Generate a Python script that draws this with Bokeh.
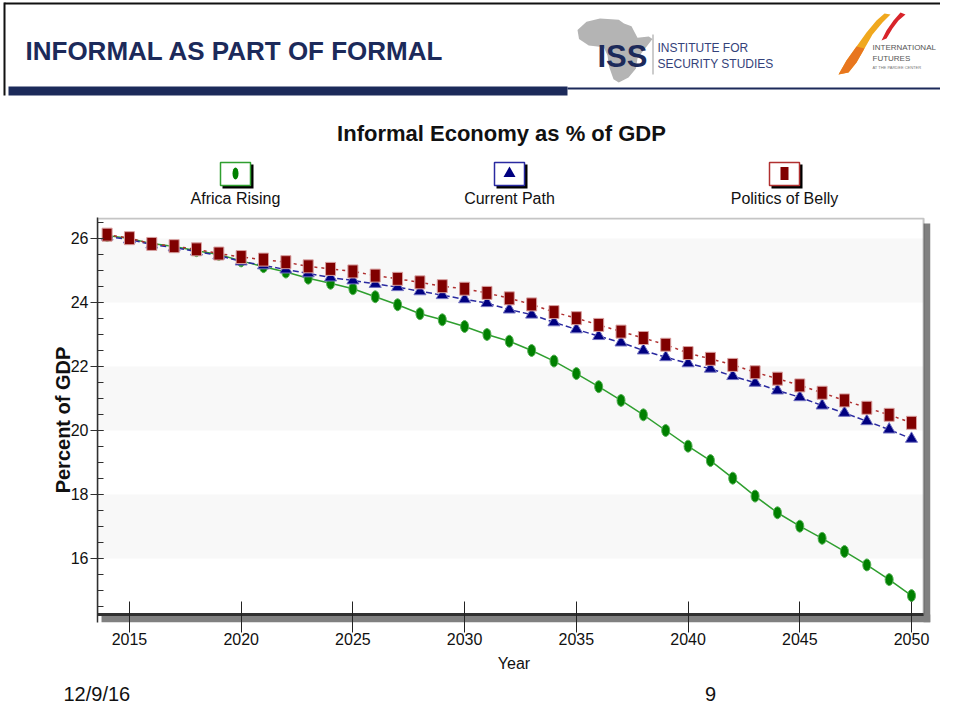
from bokeh.plotting import figure
from bokeh.models import BoxAnnotation, FixedTicker, Range1d
from bokeh.core.properties import value
from bokeh.embed import file_html
from bokeh.resources import INLINE
import numpy as np

# ---------------- data ----------------
years = list(range(2014, 2051))
africa_rising = [26.09, 26.00, 25.84, 25.75, 25.62, 25.50, 25.30, 25.12, 24.95, 24.76,
                 24.60, 24.43, 24.18, 23.93, 23.65, 23.46, 23.25, 23.00, 22.79, 22.50,
                 22.17, 21.78, 21.37, 20.94, 20.49, 20.00, 19.51, 19.06, 18.51, 17.95,
                 17.43, 17.01, 16.63, 16.22, 15.80, 15.34, 14.84]
current_path = [26.06, 25.97, 25.81, 25.72, 25.59, 25.47, 25.28, 25.16, 25.03, 24.91,
                24.78, 24.69, 24.58, 24.48, 24.35, 24.23, 24.10, 23.98, 23.78, 23.62,
                23.38, 23.16, 22.95, 22.75, 22.50, 22.29, 22.10, 21.93, 21.70, 21.49,
                21.25, 21.04, 20.78, 20.55, 20.29, 20.03, 19.74]
politics_of_belly = [26.12, 26.01, 25.83, 25.76, 25.66, 25.53, 25.42, 25.34, 25.26, 25.13,
                     25.05, 24.97, 24.84, 24.74, 24.63, 24.51, 24.43, 24.30, 24.13, 23.94,
                     23.70, 23.51, 23.30, 23.09, 22.89, 22.68, 22.42, 22.24, 22.05, 21.82,
                     21.62, 21.41, 21.18, 20.94, 20.71, 20.49, 20.24]
series_names = ["Africa Rising", "Current Path", "Politics of Belly"]
x_ticks = [2015, 2020, 2025, 2030, 2035, 2040, 2045, 2050]
y_ticks = [16, 18, 20, 22, 24, 26]

slide_title = "INFORMAL AS PART OF FORMAL"
chart_title = "Informal Economy as % of GDP"
date_text = "12/9/16"
page_text = "9"

SANS = "Liberation Sans"
NAVY = "#1c2a5a"
W = 940

GREEN_M, BLUE_M, RED_M = "#008000", "#000080", "#800000"
GREEN_L, BLUE_L, RED_L = "#2f9f2f", "#2a2aa0", "#b03030"


def deco_fig(h, y0):
    f = figure(width=W, height=h, output_backend="svg", toolbar_location=None,
               x_range=Range1d(0, W), y_range=Range1d(y0 + h, y0),
               x_axis_type=None, y_axis_type=None, min_border=0)
    f.grid.visible = False
    f.outline_line_color = None
    f.background_fill_color = "white"
    f.border_fill_color = "white"
    return f


def text(f, x, y, t, size, style="normal", color="#111111", align="left"):
    f.text(x=[x], y=[y], text=[t], text_font=value(SANS), text_font_size=value(size),
           text_font_style=style, text_color=color, text_align=align, text_baseline="middle")


# ================= header (page y 0..212) =================
hd = deco_fig(212, 0)
hd.quad(left=[4], right=[956], top=[2], bottom=[4], fill_color="#111111", line_color=None)
hd.quad(left=[3], right=[5], top=[2], bottom=[95], fill_color="#111111", line_color=None)
text(hd, 25, 50, slide_title, "26px", style="bold", color=NAVY)
hd.quad(left=[8], right=[567], top=[86], bottom=[95], fill_color=NAVY, line_color=None)
hd.quad(left=[567], right=[956], top=[87], bottom=[89], fill_color=NAVY, line_color=None)

# ISS logo: grey Africa silhouette
af = [(0.30, 0.0), (0.55, 0.02), (0.62, 0.08), (0.72, 0.12), (0.80, 0.30), (0.95, 0.28),
      (1.0, 0.32), (0.88, 0.50), (0.80, 0.62), (0.78, 0.78), (0.68, 0.92), (0.55, 1.0),
      (0.48, 0.95), (0.42, 0.75), (0.40, 0.58), (0.35, 0.45), (0.15, 0.42), (0.02, 0.32),
      (0.0, 0.18), (0.12, 0.05)]
hd.patch([577 + 75 * a for a, _ in af], [18 + 64 * b for _, b in af],
         fill_color="#b4b4b4", line_color=None)
text(hd, 597, 56, "ISS", "31px", style="bold", color=NAVY)
hd.quad(left=[652], right=[653], top=[34], bottom=[74], fill_color="#9a9a9a", line_color=None)
text(hd, 657, 47, "INSTITUTE FOR", "12px", color="#34427a")
text(hd, 657, 63, "SECURITY STUDIES", "12px", color="#34427a")

# International Futures logo (flame swooshes)
yel = [(884, 13), (876, 20), (866, 32), (856, 46), (846, 60), (838, 74), (848, 72), (856, 62),
       (864, 48), (872, 34), (882, 22), (890, 14)]
hd.patch([a for a, _ in yel], [b for _, b in yel], fill_color="#f0a81e", line_color=None)
orn = [(856, 46), (846, 60), (838, 74), (848, 72), (856, 62), (864, 48)]
hd.patch([a for a, _ in orn], [b for _, b in orn], fill_color="#e8761e", line_color=None)
red = [(900, 12), (893, 20), (886, 30), (881, 40), (886, 38), (892, 28), (898, 20), (905, 14)]
hd.patch([a for a, _ in red], [b for _, b in red], fill_color="#d8242a", line_color=None)
text(hd, 872, 47, "INTERNATIONAL", "8px", color="#555555")
text(hd, 872, 58, "FUTURES", "8px", color="#555555")
text(hd, 872, 67, "AT THE PARDEE CENTER", "4px", color="#777777")

# chart title
text(hd, 501, 133, chart_title, "22px", style="bold", align="center")

# custom legend (marker box above name)
legend_cx = [235, 509, 784]
legend_cols = [GREEN_L, BLUE_L, RED_L]
for cx, name, col in zip(legend_cx, series_names, legend_cols):
    hd.quad(left=[cx - 13], right=[cx + 18], top=[164], bottom=[188], fill_color="black",
            line_color=None)
    hd.quad(left=[cx - 15], right=[cx + 15], top=[162], bottom=[185], fill_color="white",
            line_color=col, line_width=1.5)
    text(hd, cx, 198, name, "16px", align="center")
hd.ellipse(x=[legend_cx[0]], y=[173], width=6, height=12, fill_color=GREEN_M, line_color=None)
hd.scatter(x=[legend_cx[1]], y=[173], marker="triangle", size=12, fill_color=BLUE_M,
           line_color=None)
hd.rect(x=[legend_cx[2]], y=[173], width=8, height=13, fill_color=RED_M, line_color=None)

# ================= main chart (page y 212..684) =================
p = figure(width=W, height=472, output_backend="svg", toolbar_location=None,
           x_range=Range1d(2013.57, 2050.85), y_range=Range1d(14.0, 26.656),
           min_border_left=97, min_border_right=10, min_border_top=5, min_border_bottom=62)
p.background_fill_color = "white"
p.border_fill_color = "white"
p.outline_line_color = None
p.xgrid.grid_line_color = None
p.ygrid.grid_line_color = None

p.xaxis.ticker = FixedTicker(ticks=x_ticks, minor_ticks=[])
p.xaxis.axis_line_color = None
p.xaxis.major_tick_line_color = "#222222"
p.xaxis.major_tick_in = 21
p.xaxis.major_tick_out = 10
p.xaxis.minor_tick_line_color = None
p.xaxis.major_label_standoff = 0
p.xaxis.major_label_text_font = SANS
p.xaxis.major_label_text_font_size = "16px"
p.xaxis.major_label_text_color = "#111111"
p.xaxis.axis_label = "Year"
p.xaxis.axis_label_text_font = SANS
p.xaxis.axis_label_text_font_size = "16px"
p.xaxis.axis_label_text_font_style = "normal"
p.xaxis.axis_label_text_color = "#111111"
p.xaxis.axis_label_standoff = 7

minor_y = list(np.arange(14.5, 26.66, 0.5))
p.yaxis.ticker = FixedTicker(ticks=y_ticks, minor_ticks=minor_y)
p.yaxis.axis_line_color = "#303030"
p.yaxis.axis_line_width = 1.5
p.yaxis.major_tick_line_color = "#303030"
p.yaxis.minor_tick_line_color = "#303030"
p.yaxis.major_tick_in = 6
p.yaxis.major_tick_out = 7
p.yaxis.minor_tick_in = 6
p.yaxis.minor_tick_out = 0
p.yaxis.major_label_standoff = 2
p.yaxis.major_label_text_font = SANS
p.yaxis.major_label_text_font_size = "16px"
p.yaxis.major_label_text_color = "#111111"
p.yaxis.axis_label = "Percent of GDP"
p.yaxis.axis_label_text_font = SANS
p.yaxis.axis_label_text_font_size = "20px"
p.yaxis.axis_label_text_font_style = "bold"
p.yaxis.axis_label_text_color = "#111111"
p.yaxis.axis_label_standoff = -6

X_END, Y_BOT, Y_TOP = 2050.54, 14.25, 26.656

# bands between alternate major ticks
for lo in y_ticks[::2]:
    p.add_layout(BoxAnnotation(bottom=lo, top=lo + 2, right=X_END, fill_color="#f8f8f8",
                               fill_alpha=1, line_color=None, level="underlay"))
# drop shadow of chart box
p.add_layout(BoxAnnotation(left=X_END, top=Y_TOP - 0.19, bottom=14.0, fill_color="#808080",
                           fill_alpha=1, line_color=None, level="underlay"))
p.add_layout(BoxAnnotation(left=2013.75, top=Y_BOT, bottom=14.0, fill_color="#808080",
                           fill_alpha=1, line_color=None, level="underlay"))
# chart box
p.add_layout(BoxAnnotation(right=X_END, top=Y_TOP - 0.03, bottom=Y_BOT, fill_alpha=0,
                           line_color="#404040", line_width=2, level="underlay"))
p.add_layout(BoxAnnotation(right=X_END, top=Y_BOT + 0.045, bottom=Y_BOT - 0.045,
                           fill_color="#303030", fill_alpha=1, line_color=None, level="underlay"))

p.line(years, africa_rising, line_color=GREEN_L, line_width=1.5)
p.ellipse(years, africa_rising, width=8, height=12, width_units="screen", height_units="screen",
          fill_color=GREEN_M, line_color="#55b055", line_width=1)
p.line(years, current_path, line_color=BLUE_L, line_width=1.5, line_dash="6 3")
p.scatter(years, current_path, marker="triangle", size=12, fill_color=BLUE_M,
          line_color="#7070c0", line_width=1)
p.line(years, politics_of_belly, line_color=RED_L, line_width=1.5, line_dash="3 4")
p.rect(years, politics_of_belly, width=10, height=13, width_units="screen", height_units="screen",
       fill_color=RED_M, line_color="#d8a0a0", line_width=1)

# ================= footer (page y 684..704) =================
ft = deco_fig(20, 684)
text(ft, 63, 693, date_text, "20px")
text(ft, 710, 693, page_text, "20px", align="center")

open("out.html", "w").write(file_html([hd, p, ft], INLINE))
